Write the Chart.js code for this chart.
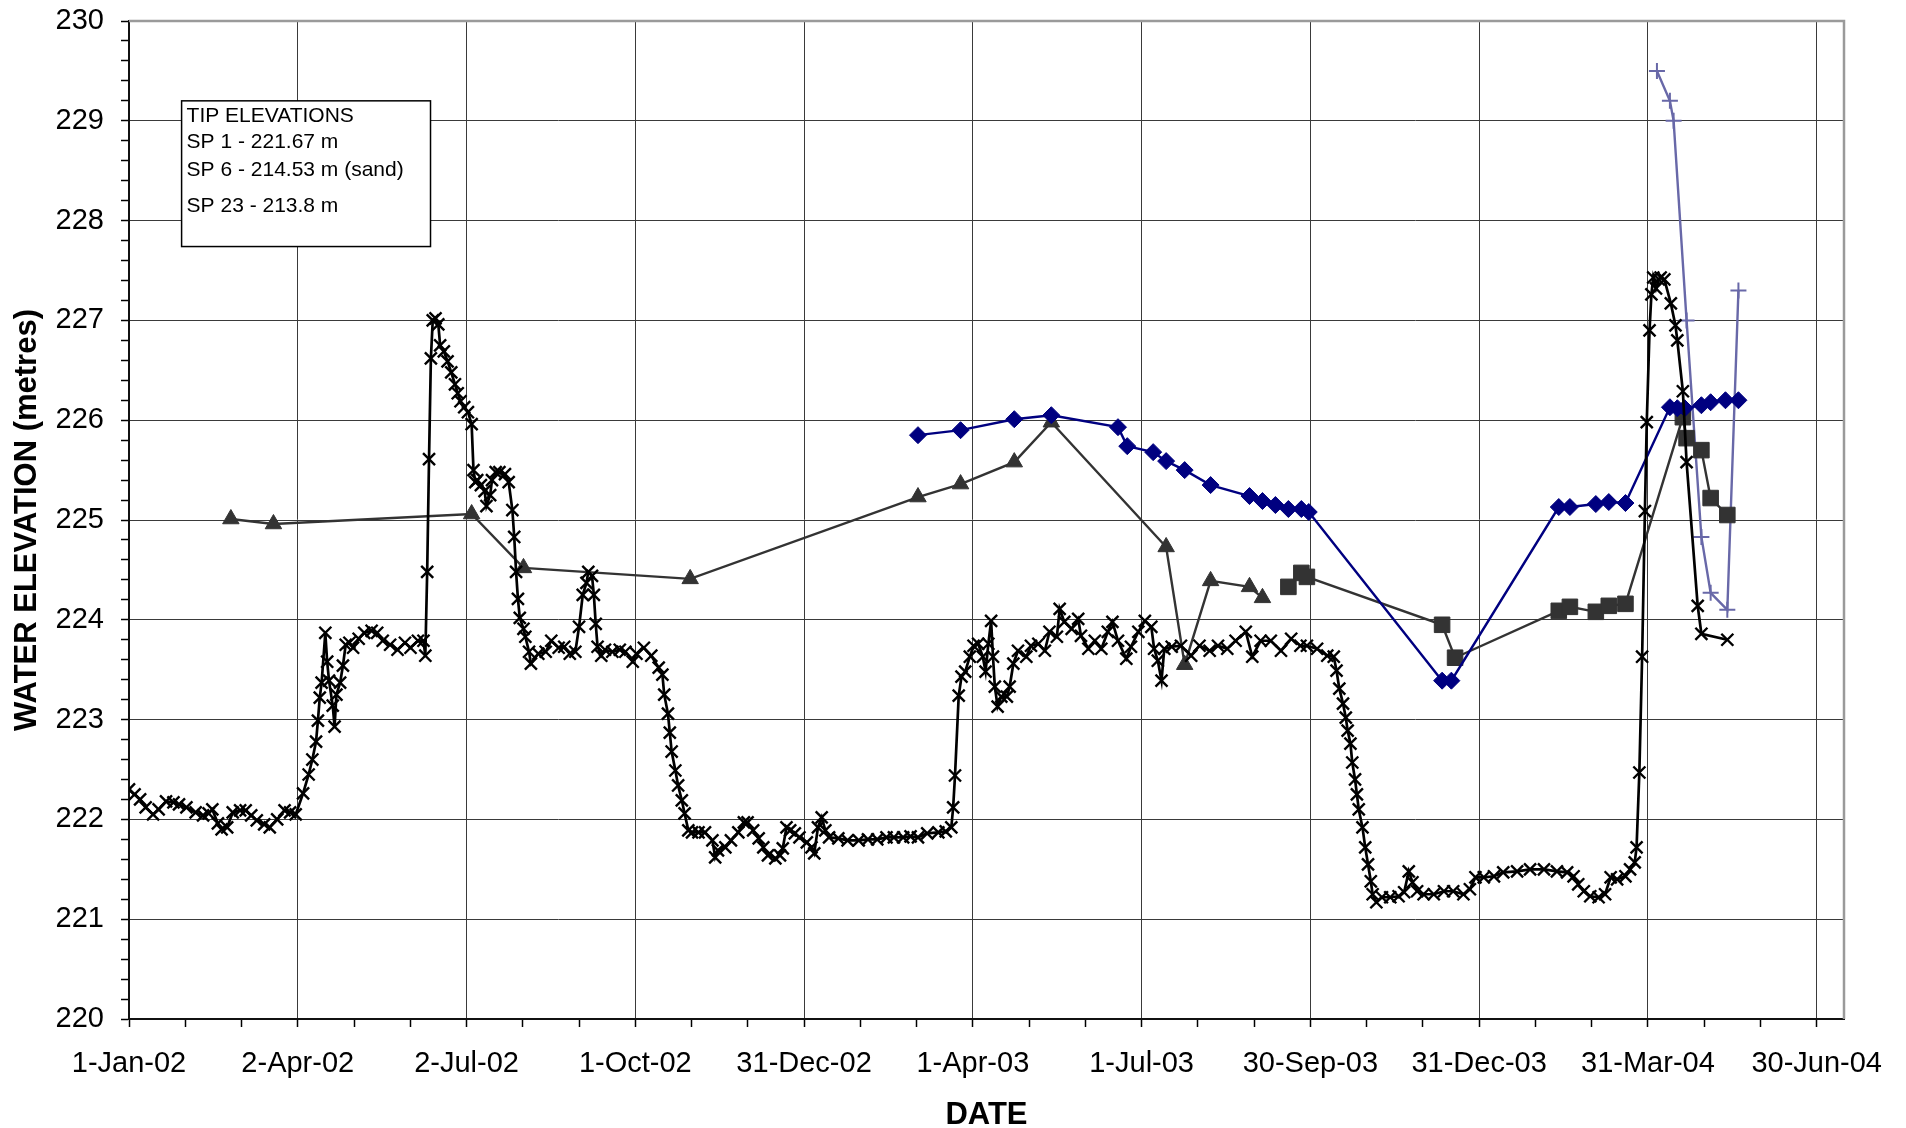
<!DOCTYPE html>
<html>
<head>
<meta charset="utf-8">
<script src="https://cdn.jsdelivr.net/npm/chart.js@4.4.0/dist/chart.umd.min.js"></script>
<style>
  html, body { margin: 0; padding: 0; background: #fff; }
  #wrap { width: 1906px; height: 1128px; }
</style>
</head>
<body>
<div id="wrap"><canvas id="chart" width="1906" height="1128"></canvas></div>
<script>
// Axis labels (x values are days counted from 1-Jan-02)
const xTickLabels = ["1-Jan-02", "2-Apr-02", "2-Jul-02", "1-Oct-02", "31-Dec-02", "1-Apr-03",
  "1-Jul-03", "30-Sep-03", "31-Dec-03", "31-Mar-04", "30-Jun-04"];
const xStep = 91.125;
const yTickLabels = ["220", "221", "222", "223", "224", "225", "226", "227", "228", "229", "230"];

// text box
const tipLines = ["TIP ELEVATIONS", "SP 1 - 221.67 m", "SP 6 - 214.53 m (sand)", "SP 23 - 213.8 m"];

// black line, x markers
const sp1Days = [0, 3, 6, 9, 13, 16, 20, 24, 27, 31, 36, 40, 43, 45, 48, 50, 53, 56, 60, 63, 66, 69, 73, 76, 80, 84, 87, 90,
  94, 97, 99, 101, 102, 103, 104, 106, 107, 108, 110, 111, 112, 114, 115.5, 117, 119, 121, 124, 127, 131, 134, 137, 141, 145,
  149, 152, 156, 159, 160, 161, 162, 163, 164, 165.5, 167, 168, 170, 172, 174, 176, 177.5, 179, 181, 183, 185, 186, 187, 188,
  190, 192, 193, 195, 196, 198, 200, 203, 205, 207, 208, 209, 210, 211, 213, 214, 216, 217, 221, 225, 228, 232, 235, 238, 241,
  243, 245, 247, 248, 250, 251, 252, 253, 255, 257, 261, 265, 268, 272, 274, 278, 282, 286, 288, 289, 291, 292, 293, 295,
  296.5, 298.5, 300, 302, 304, 307.5, 311, 315, 316.5, 318, 322, 325, 329, 332, 334, 337, 340, 342.5, 345, 349, 351.5, 353,
  355, 357, 359.5, 362, 366, 368.5, 370, 372, 374, 376, 378, 383, 388, 394, 399, 404, 409, 413, 418, 422, 426, 431, 437, 441,
  444, 445, 446, 448, 449.5, 451.5, 454, 456, 458.5, 461, 462.5, 464, 465.5, 466.5, 467.5, 469, 471, 474, 475.5, 477.5, 480,
  484.5, 487, 491, 494.5, 497, 501, 502.5, 505, 509, 512.5, 514, 518, 521.5, 525, 528.5, 531, 534, 538.5, 541, 545, 548.5,
  552, 553.5, 555.5, 557.5, 559, 563, 568, 573.5, 578, 583.5, 588, 593, 597.5, 603, 606.5, 611, 616.5, 622, 627.5, 632.5,
  636, 641.5, 647, 650.5, 652, 653.5, 655.5, 657, 658, 659.5, 660.5, 662, 663, 664, 666, 667.5, 669, 670.5, 671.5, 673.5,
  676.5, 681, 685.5, 688.5, 691, 693, 695.5, 699, 704.5, 710, 715, 720.5, 724, 727, 731.5, 737, 742, 749.5, 756.5, 764, 771,
  776.5, 780, 782.5, 785.5, 789, 793.5, 797, 800, 803.5, 808, 810.5, 813, 814, 815.5, 817, 818.5, 819.5, 821, 822, 823,
  824.5, 826, 827, 829, 832.5, 835, 836, 839, 841, 847, 849, 863];
const sp1Levels = [222.30, 222.25, 222.20, 222.12, 222.05, 222.10, 222.18, 222.17, 222.15, 222.12, 222.07, 222.04, 222.06,
  222.10, 221.96, 221.90, 221.92, 222.07, 222.09, 222.09, 222.04, 221.99, 221.95, 221.92, 222.00, 222.09, 222.07, 222.05,
  222.26, 222.45, 222.60, 222.78, 222.99, 223.22, 223.37, 223.87, 223.58, 223.39, 223.14, 222.93, 223.25, 223.37, 223.54,
  223.75, 223.77, 223.72, 223.81, 223.87, 223.89, 223.87, 223.79, 223.75, 223.70, 223.77, 223.72, 223.79, 223.79, 223.64,
  224.48, 225.61, 226.62, 227.00, 227.02, 226.96, 226.75, 226.69, 226.59, 226.48, 226.36, 226.27, 226.19, 226.13, 226.08,
  225.96, 225.50, 225.38, 225.40, 225.35, 225.29, 225.14, 225.25, 225.40, 225.48, 225.48, 225.46, 225.38, 225.10, 224.83,
  224.48, 224.21, 224.02, 223.91, 223.83, 223.68, 223.56, 223.66, 223.68, 223.79, 223.72, 223.73, 223.66, 223.68, 223.93,
  224.25, 224.37, 224.48, 224.44, 224.25, 223.96, 223.73, 223.64, 223.70, 223.68, 223.70, 223.68, 223.58, 223.66, 223.72,
  223.64, 223.52, 223.45, 223.25, 223.06, 222.87, 222.68, 222.49, 222.34, 222.19, 222.06, 221.89, 221.87, 221.87, 221.87,
  221.79, 221.62, 221.69, 221.72, 221.79, 221.87, 221.97, 221.97, 221.89, 221.81, 221.72, 221.64, 221.61, 221.64, 221.71,
  221.92, 221.89, 221.86, 221.82, 221.77, 221.72, 221.66, 221.92, 222.02, 221.89, 221.82, 221.81, 221.79, 221.79, 221.80,
  221.80, 221.82, 221.82, 221.82, 221.83, 221.82, 221.86, 221.87, 221.88, 221.92, 222.12, 222.44, 223.24, 223.43, 223.48,
  223.63, 223.74, 223.76, 223.63, 223.48, 223.76, 223.99, 223.63, 223.33, 223.13, 223.23, 223.23, 223.33, 223.56, 223.69,
  223.63, 223.74, 223.76, 223.69, 223.88, 223.83, 224.11, 223.98, 223.91, 224.01, 223.84, 223.71, 223.79, 223.71, 223.88,
  223.98, 223.79, 223.61, 223.73, 223.88, 223.99, 223.93, 223.71, 223.59, 223.39, 223.71, 223.73, 223.74, 223.64, 223.74,
  223.69, 223.74, 223.71, 223.79, 223.88, 223.63, 223.79, 223.79, 223.69, 223.81, 223.74, 223.74, 223.71, 223.64, 223.63,
  223.49, 223.31, 223.16, 223.02, 222.89, 222.76, 222.57, 222.40, 222.25, 222.10, 221.92, 221.72, 221.55, 221.38, 221.25,
  221.17, 221.22, 221.22, 221.23, 221.27, 221.48, 221.37, 221.28, 221.25, 221.25, 221.28, 221.28, 221.25, 221.30, 221.42,
  221.42, 221.43, 221.47, 221.48, 221.50, 221.50, 221.48, 221.47, 221.43, 221.35, 221.28, 221.23, 221.22, 221.25, 221.42,
  221.40, 221.43, 221.50, 221.57, 221.72, 222.47, 223.63, 225.09, 225.98, 226.90, 227.26, 227.43, 227.32, 227.41, 227.43,
  227.41, 227.17, 226.95, 226.80, 226.29, 225.58, 224.14, 223.86, 223.80];

// grey line, triangles
const triDays = [55, 78, 185, 213, 303, 426, 449, 478, 498, 560, 570, 584, 605, 612];
const triLevels = [225.01, 224.96, 225.06, 224.52, 224.41, 225.23, 225.36, 225.58, 225.98, 224.73, 223.55, 224.39, 224.33, 224.22];

// grey line, squares
const sqDays = [626, 633, 636, 709, 716, 772, 778, 792, 799, 808, 839, 841, 849, 854, 863];
const sqLevels = [224.33, 224.47, 224.43, 223.95, 223.62, 224.09, 224.13, 224.08, 224.14, 224.16, 226.03, 225.82, 225.70, 225.22, 225.05];

// navy line, diamonds
const dmDays = [426, 449, 478, 498, 534, 539, 553, 560, 570, 584, 605, 612, 619, 626, 633, 637, 709, 714,
  772, 778, 792, 799, 808, 832, 836, 840, 849, 854, 862, 869];
const dmLevels = [225.85, 225.90, 226.01, 226.05, 225.93, 225.74, 225.68, 225.59, 225.50, 225.35, 225.24, 225.19, 225.15,
  225.11, 225.11, 225.08, 223.39, 223.39, 225.13, 225.13, 225.16, 225.18, 225.17, 226.13, 226.12, 226.12, 226.15, 226.18,
  226.20, 226.20];

// lavender line, plus markers
const plDays = [825, 832, 834, 841, 849, 854, 863, 869];
const plLevels = [229.50, 229.20, 229.00, 227.00, 224.83, 224.27, 224.10, 227.30];

const pts = (xs, ys) => xs.map((d, i) => ({ x: d, y: ys[i] }));

// ticks: labelled ones plus minor ones (3 per x step, 5 per y step)
const xTicks = [];
xTickLabels.forEach((l, k) => {
  xTicks.push({ value: k * xStep, major: true });
  if (k < xTickLabels.length - 1) {
    xTicks.push({ value: k * xStep + xStep / 3, major: false });
    xTicks.push({ value: k * xStep + 2 * xStep / 3, major: false });
  }
});
const yTicks = [];
yTickLabels.forEach((l, k) => {
  const v = Number(l);
  yTicks.push({ value: v, major: true });
  if (k < yTickLabels.length - 1) {
    for (let j = 1; j < 5; j++) yTicks.push({ value: v + j * 0.2, major: false });
  }
});

const gridCol = (c) => (c.tick && c.tick.major ? "#3a3a3a" : "rgba(0,0,0,0)");

// frame + text box
const tipBox = {
  id: "tipBox",
  afterDatasetsDraw(chart) {
    const { ctx, chartArea: a, scales: { x, y } } = chart;
    ctx.save();
    ctx.strokeStyle = "#9a9a9a";
    ctx.lineWidth = 2.5;
    ctx.beginPath();
    ctx.moveTo(a.left, a.top);
    ctx.lineTo(a.right, a.top);
    ctx.lineTo(a.right, a.bottom);
    ctx.stroke();

    const left = x.getPixelForValue(28.4), right = x.getPixelForValue(162.8);
    const top = y.getPixelForValue(229.2), bottom = y.getPixelForValue(227.74);
    ctx.fillStyle = "#fff";
    ctx.fillRect(left, top, right - left, bottom - top);
    ctx.strokeStyle = "#000";
    ctx.lineWidth = 1.5;
    ctx.strokeRect(left, top, right - left, bottom - top);
    ctx.fillStyle = "#000";
    ctx.font = "21px 'Liberation Sans', Arial, sans-serif";
    ctx.textBaseline = "alphabetic";
    const offs = [21, 47.5, 75, 111];
    tipLines.forEach((t, i) => ctx.fillText(t, left + 5, top + offs[i]));
    ctx.restore();
  }
};

Chart.defaults.font.family = "'Liberation Sans', Arial, sans-serif";
Chart.defaults.color = "#000";

new Chart(document.getElementById("chart"), {
  type: "scatter",
  data: {
    datasets: [
      {
        data: pts(sp1Days, sp1Levels), showLine: true,
        borderColor: "#000", borderWidth: 2.7,
        pointStyle: "crossRot", pointRadius: 8.5, pointBorderWidth: 2.4, pointBorderColor: "#000", pointBackgroundColor: "#000"
      },
      {
        data: pts(dmDays, dmLevels), showLine: true,
        borderColor: "#000080", borderWidth: 2.4,
        pointStyle: "rectRot", pointRadius: 8.5, pointBorderWidth: 1, pointBorderColor: "#000080", pointBackgroundColor: "#000080"
      },
      {
        data: pts(triDays, triLevels), showLine: true,
        borderColor: "#333", borderWidth: 2.4,
        pointStyle: "triangle", pointRadius: 9.5, pointBorderWidth: 1, pointBorderColor: "#333", pointBackgroundColor: "#333"
      },
      {
        data: pts(sqDays, sqLevels), showLine: true,
        borderColor: "#333", borderWidth: 2.4,
        pointStyle: "rect", pointRadius: 11, pointBorderWidth: 1, pointBorderColor: "#333", pointBackgroundColor: "#333"
      },
      {
        data: pts(plDays, plLevels), showLine: true,
        borderColor: "#6868a8", borderWidth: 2.4,
        pointStyle: "cross", pointRadius: 8, pointBorderWidth: 2, pointBorderColor: "#6868a8", pointBackgroundColor: "#6868a8"
      }
    ]
  },
  options: {
    responsive: false,
    animation: false,
    events: [],
    layout: { padding: { top: 21, right: 62, bottom: 0, left: 0 } },
    plugins: { legend: { display: false }, tooltip: { enabled: false } },
    scales: {
      x: {
        type: "linear", min: 0, max: 926,
        afterBuildTicks: (s) => { s.ticks = xTicks.map(t => ({ ...t })); },
        afterFit: (s) => { s.height = 109; },
        ticks: {
          autoSkip: false, maxRotation: 0, minRotation: 0, padding: 20,
          font: { size: 29 },
          callback: (v, i, ticks) => (ticks[i].major ? xTickLabels[Math.round(v / xStep)] : "")
        },
        grid: { color: gridCol, lineWidth: 1, tickColor: "#000", tickLength: 8, tickWidth: 1.5 },
        border: { color: "#111", width: 2 },
        title: { display: true, text: "DATE", font: { size: 31, weight: "bold", lineHeight: 0.8 }, padding: { top: 0, bottom: 0 } }
      },
      y: {
        type: "linear", min: 220, max: 230,
        afterBuildTicks: (s) => { s.ticks = yTicks.map(t => ({ ...t })); },
        afterFit: (s) => { s.width = 129; s.paddingTop = 0; s.paddingBottom = 0; },
        ticks: {
          autoSkip: false, padding: 17,
          font: { size: 29 },
          callback: (v, i, ticks) => (ticks[i].major ? yTickLabels[Math.round(v - 220)] : "")
        },
        grid: { color: gridCol, lineWidth: 1, tickColor: "#000", tickLength: 8, tickWidth: 1.5 },
        border: { color: "#111", width: 2 },
        title: { display: true, text: "WATER ELEVATION (metres)", font: { size: 31, weight: "bold", lineHeight: 1.2 }, padding: { top: 9, bottom: 0 } }
      }
    }
  },
  plugins: [tipBox]
});
</script>
</body>
</html>
